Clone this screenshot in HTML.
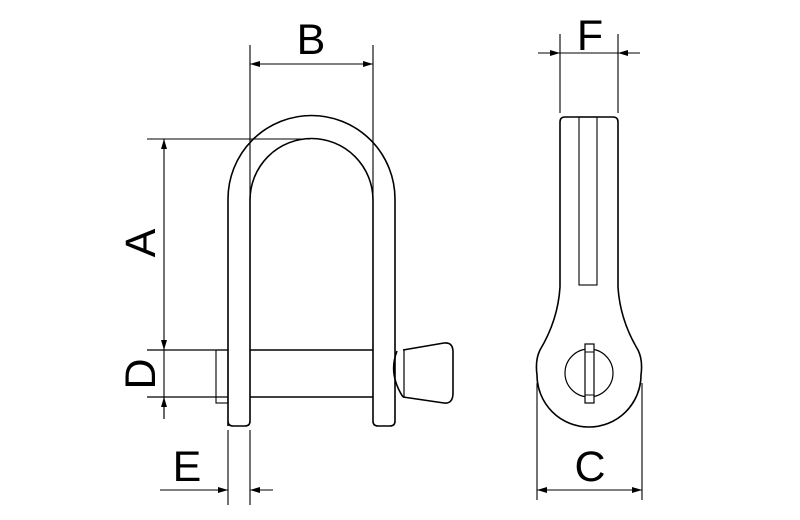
<!DOCTYPE html>
<html><head><style>html,body{margin:0;padding:0;background:#fff}svg{display:block}</style></head>
<body>
<svg width="800" height="520" viewBox="0 0 800 520" xmlns="http://www.w3.org/2000/svg">
<defs>
<marker id="ar" viewBox="0 0 10 6" refX="10" refY="3" markerWidth="10" markerHeight="6" orient="auto-start-reverse" markerUnits="userSpaceOnUse">
<path d="M0,0 L10,3 L0,6 z" fill="#000"/></marker>
</defs>
<g fill="none" stroke="#000" stroke-width="1.6">
<!-- shackle -->
<path d="M228,426 V199 A83.5,83.5 0 0 1 395,199 V421 Q395,426 390,426 H378 Q373,426 373,421 V200 A61.5,61.5 0 0 0 250,200 V421 Q250,426 245,426 H233 Q228,426 228,421"/>
<!-- pin -->
<line x1="250" y1="350" x2="373" y2="350"/>
<line x1="250" y1="397" x2="373" y2="397"/>
<line x1="147" y1="350" x2="228" y2="350" stroke-width="1.2"/>
<line x1="147" y1="397" x2="228" y2="397" stroke-width="1.2"/>
<rect x="216" y="350" width="12" height="53" stroke-width="1.1"/>
<!-- wing nut -->
<path d="M397,351 Q388,374 403,397"/>
<line x1="404" y1="350" x2="404" y2="398" stroke-width="1.2"/>
<path d="M403,350 L444,343 Q453,342 453,352 V393 Q453,404 444,403 L403,397"/>
<!-- side view -->
<path d="M560,287 V122 Q560,117 565,117 H613 Q618,117 618,122 V287 Q620,320 638,350 Q643,360 641,375 A52,52 0 0 1 537,375 Q535,360 540,350 Q558,320 560,287"/>
<rect x="579" y="117" width="18" height="168" stroke-width="1.1"/>
<circle cx="589" cy="373" r="24" stroke-width="1.2"/>
<rect x="585" y="344" width="9" height="59" fill="#fff" stroke-width="1.2"/>
<line x1="585" y1="352" x2="594" y2="352" stroke-width="1"/>
<line x1="585" y1="395" x2="594" y2="395" stroke-width="1"/>
</g>
<g fill="none" stroke="#000" stroke-width="1.1">
<!-- A -->
<line x1="147" y1="139" x2="310" y2="139"/>
<line x1="164" y1="139" x2="164" y2="350" marker-start="url(#ar)" marker-end="url(#ar)"/>
<!-- D -->
<line x1="164" y1="350" x2="164" y2="419"/>
<line x1="164" y1="419" x2="164" y2="397" marker-end="url(#ar)"/>
<!-- B -->
<line x1="250" y1="45" x2="250" y2="200"/>
<line x1="373" y1="45" x2="373" y2="200"/>
<line x1="250" y1="64" x2="373" y2="64" marker-start="url(#ar)" marker-end="url(#ar)"/>
<!-- E -->
<line x1="228" y1="430" x2="228" y2="505"/>
<line x1="250" y1="430" x2="250" y2="505"/>
<line x1="160" y1="490" x2="228" y2="490" marker-end="url(#ar)"/>
<line x1="273" y1="490" x2="250" y2="490" marker-end="url(#ar)"/>
<!-- F -->
<line x1="560" y1="34" x2="560" y2="113"/>
<line x1="618" y1="34" x2="618" y2="113"/>
<line x1="538" y1="53" x2="560" y2="53" marker-end="url(#ar)"/>
<line x1="640" y1="53" x2="618" y2="53" marker-end="url(#ar)"/>
<line x1="560" y1="53" x2="618" y2="53"/>
<!-- C -->
<line x1="537" y1="383" x2="537" y2="500"/>
<line x1="642" y1="383" x2="642" y2="500"/>
<line x1="537" y1="490" x2="642" y2="490" marker-start="url(#ar)" marker-end="url(#ar)"/>
</g>
<g font-family="Liberation Sans, sans-serif" font-size="43" fill="#000" text-anchor="middle">
<text x="311" y="54">B</text>
<text x="590" y="50">F</text>
<text x="590" y="481">C</text>
<text x="187" y="481">E</text>
<text transform="translate(155,243) rotate(-90)">A</text>
<text transform="translate(155,374) rotate(-90)">D</text>
</g>
</svg>
</body></html>
